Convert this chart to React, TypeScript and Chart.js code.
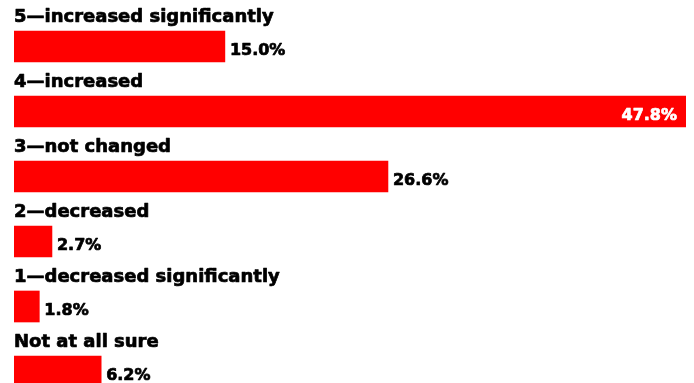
import React, { useEffect, useRef } from "react";
import { Chart, registerables } from "chart.js";

Chart.register(...registerables);

const categories = [
  "5\u2014increased significantly",
  "4\u2014increased",
  "3\u2014not changed",
  "2\u2014decreased",
  "1\u2014decreased significantly",
  "Not at all sure",
];
const values = [15.0, 47.8, 26.6, 2.7, 1.8, 6.2];
const valueLabels = ["15.0%", "47.8%", "26.6%", "2.7%", "1.8%", "6.2%"];

const CAT_FONT = "bold 18px 'DejaVu Sans', sans-serif";
const VAL_FONT = "bold 16px 'DejaVu Sans', sans-serif";

function heavyText(ctx: any, text: string, x: number, y: number, color: string) {
  ctx.fillStyle = color;
  ctx.strokeStyle = color;
  ctx.lineWidth = 0.7;
  ctx.lineJoin = "round";
  ctx.fillText(text, x, y);
  ctx.strokeText(text, x, y);
}

const labelPlugin = {
  id: "rowLabels",
  afterDatasetsDraw(chart: any) {
    const ctx = chart.ctx;
    const meta = chart.getDatasetMeta(0);
    const xMax = chart.scales.x.max;
    ctx.save();
    meta.data.forEach((bar: any, i: number) => {
      const { x, y, height } = bar.getProps(["x", "y", "height"], true);
      const top = y - height / 2;
      ctx.font = CAT_FONT;
      ctx.textAlign = "left";
      ctx.textBaseline = "alphabetic";
      heavyText(ctx, categories[i], chart.chartArea.left, top - 9, "#000000");
      ctx.font = VAL_FONT;
      const inside = values[i] >= xMax * 0.9;
      if (inside) {
        ctx.textAlign = "right";
        heavyText(ctx, valueLabels[i], x - 9, y + 8, "#ffffff");
      } else {
        ctx.textAlign = "left";
        heavyText(ctx, valueLabels[i], x + 5, y + 8, "#000000");
      }
    });
    ctx.restore();
  },
};

export default function App() {
  const ref = useRef<HTMLCanvasElement>(null);
  useEffect(() => {
    if (!ref.current) return;
    const chart = new Chart(ref.current, {
      type: "bar",
      data: {
        labels: categories,
        datasets: [
          {
            data: values,
            backgroundColor: "#ff0000",
            borderWidth: 0,
            barThickness: 31,
          },
        ],
      },
      options: {
        indexAxis: "y",
        animation: false,
        responsive: false,
        maintainAspectRatio: false,
        layout: { padding: { left: 14, right: 8, top: 14, bottom: 0 } },
        plugins: { legend: { display: false }, tooltip: { enabled: false } },
        scales: {
          x: { display: false, min: 0, max: 47.8 },
          y: { display: false },
        },
      },
      plugins: [labelPlugin],
    });
    return () => chart.destroy();
  }, []);
  return (
    <div
      style={{
        position: "fixed",
        left: 0,
        top: 0,
        width: 694,
        height: 383,
        overflow: "hidden",
        background: "#ffffff",
      }}
    >
      <canvas ref={ref} width={694} height={404} style={{ width: 694, height: 404, display: "block" }} />
    </div>
  );
}
